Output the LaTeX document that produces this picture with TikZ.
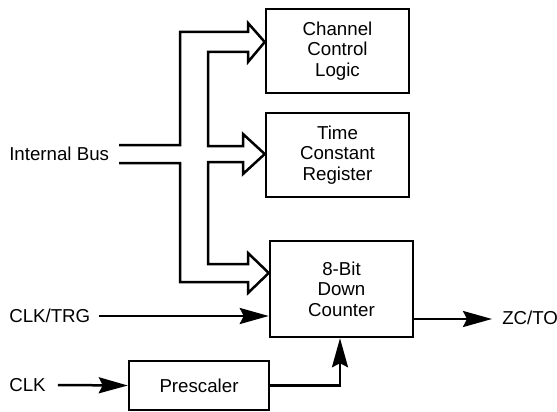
\documentclass[tikz,border=0pt]{standalone}
\usepackage{fontspec}
\setmainfont{Liberation Sans}
\usetikzlibrary{arrows.meta,calc}
\begin{document}
\begin{tikzpicture}[x=1pt,y=-1pt,
  line width=2.5pt,
  blockbox/.style={draw,line width=2.5pt,align=center,inner sep=0pt,
    font=\fontsize{18.7}{20.5}\selectfont},
  lbl/.style={anchor=west,inner sep=0pt,font=\fontsize{18.7}{20.5}\selectfont},
  sig/.style={-{Stealth[length=29pt,width=16pt,inset=4pt]},line width=2.5pt},
  bus/.style={line width=2.5pt,line join=miter}]
\useasboundingbox (0,0) rectangle (557,412);
% blocks
\node[blockbox,minimum width=143pt,minimum height=84pt] (ccl) at (337.5,51) {Channel\\Control\\Logic};
\node[blockbox,minimum width=143pt,minimum height=84pt] (tcr) at (337.5,155) {Time\\Constant\\Register};
\node[blockbox,minimum width=143pt,minimum height=96pt] (cnt) at (341.5,289) {8-Bit\\Down\\Counter};
\node[blockbox,minimum width=140pt,minimum height=49pt] (pre) at (199,385.5) {Prescaler};
% labels
\node[lbl] (ib) at (8,154) {Internal Bus};
\node[lbl] (trg) at (8,316) {CLK/TRG};
\node[lbl] (clk) at (8,385) {CLK};
\node[lbl] (zc) at (501,318) {ZC/TO};
% internal bus (open double-line arrows)
\coordinate (b1) at (119,145);
\coordinate (b2) at (119,163);
\draw[bus] (b1) -- (180,145) -- (180,32) -- (248,32) -- (248,23) -- (ccl.west |- 0,42)
  -- (248,62) -- (248,52) -- (208,52) -- (208,146) -- (243,146) -- (243,134)
  -- (tcr.west |- 0,154) -- (243,174) -- (243,162) -- (208,162) -- (208,264)
  -- (248,264) -- (248,253) -- (cnt.west |- 0,273) -- (248,293) -- (248,282)
  -- (180,282) -- (180,163) -- (b2);
% signals
\draw[sig] ($(trg.east)+(7,0)$) -- (trg.east -| cnt.west);
\draw[sig] ($(clk.east)+(11,0)$) -- (pre.west);
\draw[sig] (pre.east) -| ($(cnt.south)+(-1.5,0)$);
\draw[sig] (cnt.east |- 0,319) -- ($(zc.west)+(-9,1)$);
\end{tikzpicture}
\end{document}
